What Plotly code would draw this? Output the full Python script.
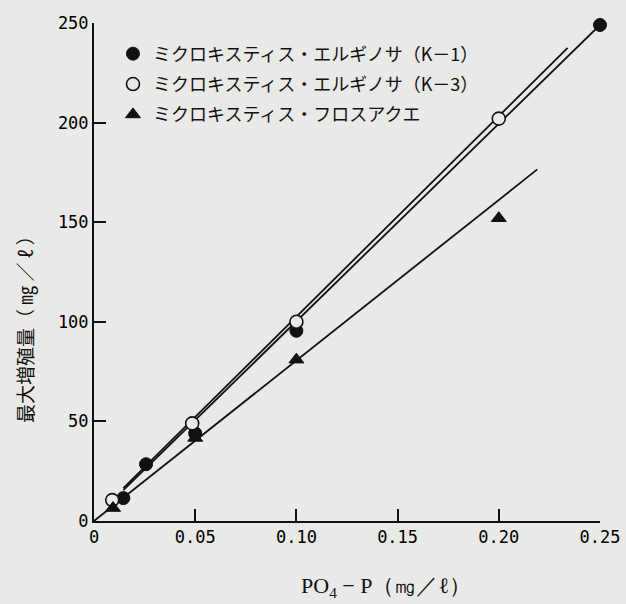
import plotly.graph_objects as go

# ---- data ----
k1_x = [0.0145, 0.0257, 0.050, 0.100, 0.250]
k1_y = [11.5, 28.5, 44.0, 95.5, 249.0]
k3_x = [0.009, 0.0485, 0.100, 0.200]
k3_y = [10.5, 49.0, 100.0, 202.0]
fr_x = [0.0094, 0.050, 0.100, 0.200]
fr_y = [6.5, 41.7, 81.0, 152.0]

# regression lines (end points as drawn)
k1_fit_x = [0.0145, 0.250]
k1_fit_y = [15.5, 249.0]
k3_fit_x = [0.0145, 0.234]
k3_fit_y = [16.5, 237.5]
fr_fit_x = [0.0, 0.219]
fr_fit_y = [0.0, 176.5]

names = ["ミクロキスティス・エルギノサ（K－1）",
         "ミクロキスティス・エルギノサ（K－3）",
         "ミクロキスティス・フロスアクエ"]

x_ticks = [0, 0.05, 0.10, 0.15, 0.20, 0.25]
x_tick_text = ["0", "0.05", "0.10", "0.15", "0.20", "0.25"]
y_ticks = [0, 50, 100, 150, 200, 250]

BG = "#e9e9e7"
INK = "#111111"

fig = go.Figure()
for fx, fy in [(k1_fit_x, k1_fit_y), (k3_fit_x, k3_fit_y), (fr_fit_x, fr_fit_y)]:
    fig.add_trace(go.Scatter(x=fx, y=fy, mode="lines", showlegend=False,
                             line=dict(color=INK, width=1.8), hoverinfo="skip"))

fig.add_trace(go.Scatter(x=k1_x, y=k1_y, mode="markers", name=names[0], legendgroup="a",
                         marker=dict(symbol="circle", size=13, color=INK,
                                     line=dict(color=INK, width=1)), cliponaxis=False))
fig.add_trace(go.Scatter(x=k3_x, y=k3_y, mode="markers", name=names[1], legendgroup="b",
                         marker=dict(symbol="circle", size=13, color=BG,
                                     line=dict(color=INK, width=1.6)), cliponaxis=False))
fig.add_trace(go.Scatter(x=fr_x, y=fr_y, mode="markers", name=names[2], legendgroup="c",
                         marker=dict(symbol="triangle-up", size=13, color=INK,
                                     line=dict(color=INK, width=1)), cliponaxis=False))

fig.update_layout(
    width=626, height=604,
    margin=dict(l=94, r=26, t=23, b=83),
    paper_bgcolor=BG, plot_bgcolor=BG,
    showlegend=True,
    legend=dict(x=0.0375, y=0.975, xanchor="left", yanchor="top",
                bgcolor="rgba(0,0,0,0)", traceorder="grouped", tracegroupgap=4,
                font=dict(family="Noto Sans CJK JP", size=18, color=INK),
                itemsizing="trace"),
    xaxis=dict(range=[0, 0.25], tickvals=x_ticks, ticktext=x_tick_text, automargin=False,
               ticks="inside", ticklen=12, tickwidth=2, tickcolor=INK,
               showline=True, linecolor=INK, linewidth=2, showgrid=False, zeroline=False,
               tickfont=dict(family="DejaVu Sans Mono", size=17, color="#000000")),
    yaxis=dict(range=[0, 250], tickvals=y_ticks, automargin=False,
               ticks="inside", ticklen=12, tickwidth=2, tickcolor=INK,
               showline=True, linecolor=INK, linewidth=2, showgrid=False, zeroline=False,
               tickfont=dict(family="DejaVu Sans Mono", size=17, color="#000000")),
    annotations=[
        dict(text="最大増殖量（ ㎎ ／ ℓ ）", textangle=-90, xref="paper", yref="paper",
             x=-0.136, y=0.394, xanchor="center", yanchor="middle", showarrow=False,
             font=dict(family="Noto Sans CJK JP", size=19, color=INK)),
        dict(text="PO<sub>4</sub> − P（㎎／ℓ）", xref="paper", yref="paper",
             x=0.577, y=-0.133, xanchor="center", yanchor="middle", showarrow=False,
             font=dict(family="Liberation Serif", size=22, color=INK)),
    ],
)

fig.write_html(
    "out.html",
    config={"displayModeBar": False},
    post_script="document.body.style.margin='0';document.body.style.background='%s';" % BG,
)
